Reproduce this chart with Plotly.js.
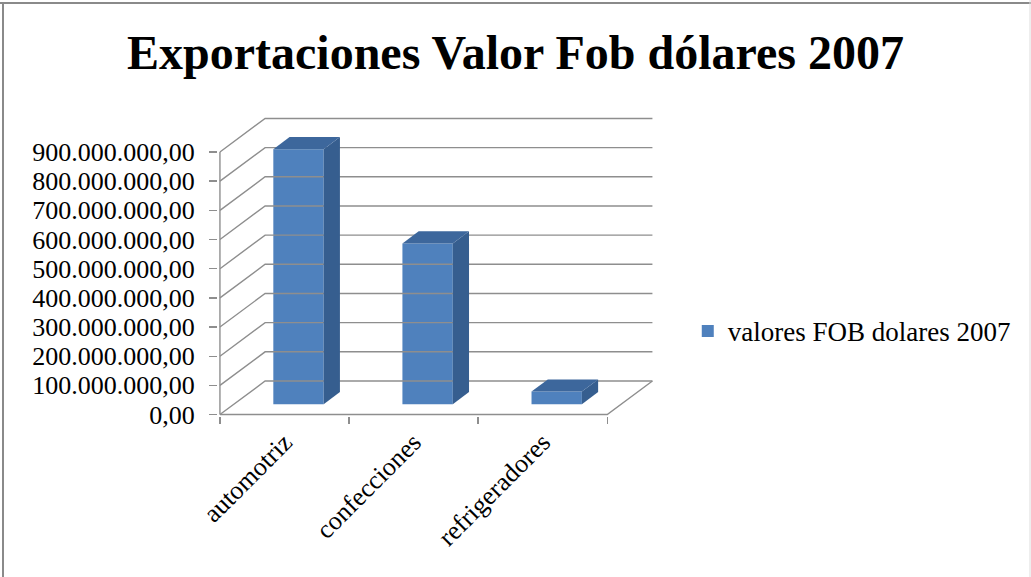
<!DOCTYPE html>
<html>
<head>
<meta charset="utf-8">
<script src="https://cdn.plot.ly/plotly-3.0.1.min.js"></script>
<style>html,body{margin:0;padding:0;background:#fff;}#chart{width:1031px;height:577px;}</style>
</head>
<body>
<div id="chart"></div>
<script>
// ---- data ----
const categories = ["automotriz", "confecciones", "refrigeradores"];
const values = [874000000, 551000000, 43000000];
const seriesName = "valores FOB dolares 2007";
const yTickVals = [0, 100000000, 200000000, 300000000, 400000000, 500000000, 600000000, 700000000, 800000000, 900000000];
const yTickLabels = ["0,00", "100.000.000,00", "200.000.000,00", "300.000.000,00", "400.000.000,00",
  "500.000.000,00", "600.000.000,00", "700.000.000,00", "800.000.000,00", "900.000.000,00"];
const chartTitle = "Exportaciones Valor Fob dólares 2007";

// ---- oblique 3D styling (depth offsets in axis units) ----
const DX = 0.35, DY = 115000000;
const D0 = 0.31, D1 = 0.67;
const BW = 0.39;
const gridColor = "#8e8e8e";
const xs = categories.map((c, i) => i);
const xLeft = -0.5, xRight = categories.length - 0.5;

const traces = [];
// grid: front tick -> back wall -> across
const gx = [], gy = [];
yTickVals.forEach(v => {
  gx.push(xLeft, xLeft + DX, xRight + DX, null);
  gy.push(v, v + DY, v + DY, null);
});
// front vertical axis
gx.push(xLeft, xLeft, null);
gy.push(0, yTickVals[yTickVals.length - 1], null);
// floor: front edge, right diagonal
gx.push(xLeft, xRight, xRight + DX, null);
gy.push(0, 0, DY, null);
traces.push({x: gx, y: gy, mode: "lines", line: {color: gridColor, width: 1.4},
  hoverinfo: "skip", showlegend: false, type: "scatter"});

// front faces (bar trace)
const base = D0 * DY;
traces.push({
  type: "bar", name: seriesName,
  x: xs.map(i => i + D0 * DX), y: values, base: xs.map(() => base), width: BW,
  marker: {color: "#4f81bd", line: {width: 0}},
  hoverinfo: "skip", showlegend: true
});
// side and top faces
const dd = D1 - D0;
xs.forEach((i, k) => {
  const xl = i + D0 * DX - BW / 2, xr = i + D0 * DX + BW / 2;
  const top = base + values[k];
  traces.push({type: "scatter", mode: "lines", fill: "toself", fillcolor: "#365e8f",
    line: {width: 0, color: "#365e8f"}, hoverinfo: "skip", showlegend: false,
    x: [xr, xr + dd * DX, xr + dd * DX, xr, xr],
    y: [base, base + dd * DY, top + dd * DY, top, base]});
  traces.push({type: "scatter", mode: "lines", fill: "toself", fillcolor: "#3d679c",
    line: {width: 0, color: "#3d679c"}, hoverinfo: "skip", showlegend: false,
    x: [xl, xl + dd * DX, xr + dd * DX, xr, xl],
    y: [top, top + dd * DY, top + dd * DY, top, top]});
});

const font = "Liberation Serif, Times New Roman, serif";
const layout = {
  width: 1031, height: 577,
  margin: {l: 218, r: 376, t: 117, b: 161},
  paper_bgcolor: "#ffffff", plot_bgcolor: "rgba(0,0,0,0)",
  font: {family: font, color: "#000", size: 26},
  title: {text: "<b>" + chartTitle + "</b>", font: {family: font, size: 48, color: "#000"},
    x: 0.5, xref: "container", xanchor: "center", y: 0.91, yanchor: "middle"},
  xaxis: {range: [-0.515, xRight + DX + 0.02], showgrid: false, zeroline: false, showline: false,
    tickmode: "array", tickvals: xs, ticktext: categories, tickangle: -45, ticks: "",
    ticklabelstandoff: 5,
    tickfont: {family: font, size: 26, color: "#000"},
    minor: {tickmode: "array", tickvals: [-0.5, 0.5, 1.5, 2.5], ticks: "outside", ticklen: 7, tickcolor: gridColor, tickwidth: 1.4, showgrid: false},
    fixedrange: true},
  yaxis: {range: [-5000000, 1020000000], showgrid: false, zeroline: false, showline: false,
    tickmode: "array", tickvals: yTickVals, ticktext: yTickLabels, ticks: "outside", ticklen: 8,
    tickcolor: gridColor, tickwidth: 1.4, ticklabelstandoff: 9,
    tickfont: {family: font, size: 26, color: "#000"}, fixedrange: true},
  showlegend: true,
  legend: {x: 1.075, xanchor: "left", y: 0.283, yanchor: "middle", font: {family: font, size: 27, color: "#000"},
    bgcolor: "rgba(0,0,0,0)", itemwidth: 30},
  shapes: [
    {type: "line", xref: "paper", yref: "paper", x0: -218/437, x1: (1031-218)/437 + 0.01, y0: (577-161-3)/299 , y1: (577-161-3)/299, line: {color: "#8a8a8a", width: 2}},
    {type: "line", xref: "paper", yref: "paper", x0: -215/437, x1: -215/437, y0: -1, y1: (577-161-2)/299, line: {color: "#8a8a8a", width: 2}},
    {type: "line", xref: "paper", yref: "paper", x0: (1030-218)/437, x1: (1030-218)/437, y0: -1, y1: 2, line: {color: "#dddddd", width: 1}}
  ]
};
Plotly.newPlot("chart", traces, layout, {displayModeBar: false, staticPlot: true});
</script>
</body>
</html>
